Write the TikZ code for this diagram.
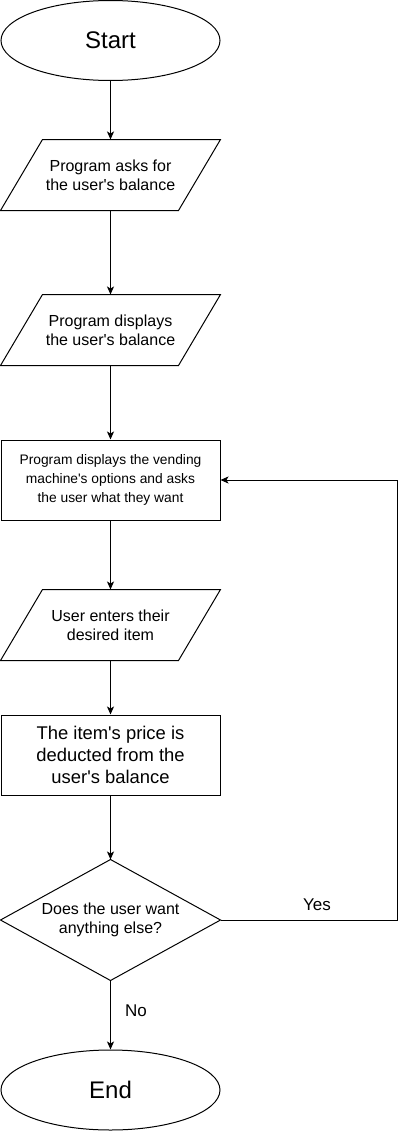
\documentclass[tikz,border=0pt]{standalone}
\usepackage{fontspec}
\setmainfont{Liberation Sans}
\usetikzlibrary{shapes.geometric,arrows.meta,calc}
\newcommand{\apo}{\textquotesingle}
\begin{document}
\begin{tikzpicture}[x=1pt,y=-1pt,line width=1pt,
  term/.style={draw,ellipse,minimum width=219pt,minimum height=80pt,inner sep=0pt,font=\fontsize{24}{28}\selectfont},
  iobox/.style={minimum width=219pt,minimum height=70pt,inner sep=0pt,align=center,font=\fontsize{16}{19}\selectfont},
  procbox/.style={draw,minimum width=219pt,minimum height=80pt,inner sep=0pt,align=center},
  decbox/.style={minimum width=219pt,minimum height=120pt,inner sep=0pt,align=center,font=\fontsize{16}{19}\selectfont},
  arr/.style={-{Stealth[length=8pt,width=7pt,inset=2pt]}},
  lbl/.style={font=\fontsize{17}{20}\selectfont}]
\useasboundingbox (0,0) rectangle (407,1132);
\node[term] (start) at (110.5,40.5) {Start};
\node[iobox] (p1) at (110.5,175) {Program asks for\\the user\apo s balance};
\node[iobox] (p2) at (110.5,330) {Program displays\\the user\apo s balance};
\node[procbox,font=\fontsize{13.8}{19}\selectfont] (r1) at (110.5,480) {Program displays the vending\\machine\apo s options and asks\\the user what they want};
\node[iobox] (p3) at (110.5,625) {User enters their\\desired item};
\node[procbox,font=\fontsize{18.4}{22}\selectfont] (r2) at (110.5,755) {The item\apo s price is\\deducted from the\\user\apo s balance};
\node[decbox] (d) at (110.5,920) {Does the user want\\anything else?};
\node[term] (end) at (110.5,1090) {End};
\foreach \n in {p1,p2,p3}{
  \draw ($(\n.north west)+(42,0)$) -- (\n.north east) -- ($(\n.south east)-(42,0)$) -- (\n.south west) -- cycle;
}
\draw (d.north) -- (d.east) -- (d.south) -- (d.west) -- cycle;
\coordinate (c1) at (397,920);
\coordinate (c2) at (397,480);
\draw[arr] (start) -- (p1);
\draw[arr] (p1) -- (p2);
\draw[arr] (p2) -- (r1);
\draw[arr] (r1) -- (p3);
\draw[arr] (p3) -- (r2);
\draw[arr] (r2) -- (d.north);
\draw[arr] (d.south) -- (end);
\draw[arr] (d.east) -- (c1) -- (c2) -- (r1.east);
\node[lbl] (yes) at (317,905) {Yes};
\node[lbl] (no) at (136,1011) {No};
\end{tikzpicture}
\end{document}
